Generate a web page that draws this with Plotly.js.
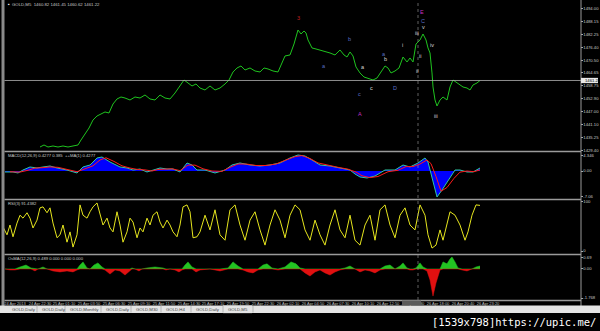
<!DOCTYPE html>
<html><head><meta charset="utf-8">
<script src="https://cdn.plot.ly/plotly-3.0.1.min.js"></script>
<style>html,body{margin:0;padding:0;background:#000;}#chart{width:600px;height:331px;}</style>
</head><body><div id="chart"></div>
<script>
// ---- data (bar index along time axis) ----
const priceBar = [40,44,48,53,58,63,68,73,78,81,85,89,93,97,101,105,109,113,117,121,125,130,135,140,145,150,155,160,165,170,175,180,184,188,192,196,200,205,210,215,220,225,229,233,237,241,245,250,255,260,264,268,273,278,282,285,290,294,298,301,304,306,308,312,316,320,325,330,335,340,344,347,350,353,356,360,364,368,373,377,381,385,388,391,395,399,403,407,410,413,416,420,423,426,428,430,432,433,435,437,440,443,447,450,453,457,460,463,467,470,473,477,480];
const priceClose = [1430.83,1431.75,1430.83,1431.29,1430.83,1431.29,1430.83,1431.29,1431.75,1434.03,1436.77,1439.51,1443.17,1445.00,1445.91,1446.83,1446.37,1450.48,1452.77,1453.68,1453.22,1452.31,1453.68,1453.22,1454.60,1452.77,1452.31,1454.60,1453.22,1452.77,1455.51,1458.71,1461.45,1460.08,1458.71,1459.62,1457.79,1456.88,1458.71,1456.88,1457.79,1459.62,1461.45,1465.11,1466.94,1467.85,1466.02,1466.94,1465.56,1465.11,1466.94,1466.48,1465.56,1465.11,1469.68,1472.42,1472.88,1477.90,1484.30,1482.47,1483.84,1482.93,1479.73,1476.08,1475.62,1475.16,1474.25,1473.79,1472.88,1475.16,1472.88,1471.96,1474.25,1472.42,1467.39,1464.65,1462.82,1462.36,1461.45,1462.36,1465.11,1467.85,1466.94,1464.65,1465.56,1466.94,1471.96,1469.68,1471.51,1469.68,1477.90,1479.73,1482.47,1479.73,1476.08,1473.79,1464.65,1458.25,1452.31,1449.57,1452.31,1453.68,1452.31,1458.25,1461.45,1460.08,1459.17,1458.25,1457.79,1456.88,1459.17,1460.08,1461.22];
const priceTicks = [1494.00,1488.15,1482.25,1476.40,1470.50,1464.65,1458.75,1452.90,1447.00,1441.10,1435.25,1429.40];
const lastPrice = 1461.22;

const macdBar = [5,13,18,23,30,37,43,50,57,67,77,83,90,97,102,110,120,127,133,140,147,153,160,167,173,180,187,192,197,205,215,225,232,240,250,260,270,280,290,298,305,312,320,330,340,350,355,360,367,375,385,395,403,410,418,425,428,433,437,442,450,455,460,467,473,480];
const macdMain = [-0.27,-0.27,-0.54,0.27,1.09,0.82,1.09,1.36,0.82,0.27,-0.54,1.09,1.63,3.54,3.81,2.45,1.09,0.82,0.27,0.54,-0.27,0.27,0.82,0.54,0.54,-0.27,2.18,1.63,0.27,0.27,-0.54,0.27,1.63,2.18,1.63,1.36,1.63,2.18,3.54,4.35,4.08,2.99,1.63,1.36,0.82,0.27,-0.82,-1.63,-1.90,-1.36,0.27,0.27,1.63,1.09,2.18,3.54,2.45,-2.45,-7.07,-5.17,-1.63,0.27,0.27,-0.27,-0.27,0.82];
const signalBar = [10,20,28,35,42,50,58,67,77,85,93,100,106,114,122,130,138,145,152,158,165,172,180,188,195,203,212,222,230,238,246,256,266,276,286,295,302,310,318,328,338,348,356,362,370,378,388,398,406,413,420,427,431,436,441,447,454,460,467,474,480];
const macdSignal = [-0.2,-0.3,0.2,0.8,0.9,1.1,1.0,0.5,-0.2,0.6,1.4,3.0,3.6,2.6,1.4,0.8,0.4,0.3,0.0,0.4,0.6,0.6,0.1,1.6,1.6,0.6,0.0,-0.1,1.0,1.9,1.9,1.5,1.5,1.9,3.0,3.9,4.2,3.4,2.2,1.5,1.0,0.5,-0.3,-1.3,-1.8,-1.5,-0.2,0.2,1.2,1.2,1.9,3.0,2.0,-1.5,-5.5,-4.5,-2.0,-0.3,0.0,-0.2,0.3];
const macdTicks = [4.346, 0, -7.06];
const macdTickText = ['4.346','0.00','-7.06'];

const rsiBar = [3,7,10,13,17,20,23,27,30,33,37,40,43,47,50,53,57,60,63,67,70,73,77,80,83,87,90,93,97,100,103,107,110,113,117,120,123,127,130,133,137,140,143,147,150,153,157,160,163,167,170,173,177,180,183,187,190,193,197,200,205,210,215,220,225,230,235,240,245,250,255,260,265,270,275,280,285,290,295,300,305,310,315,320,325,330,335,340,345,350,355,360,365,370,375,380,385,390,395,400,405,410,415,420,425,428,432,436,440,443,447,450,455,460,465,468,472,476,480];
const rsiValue = [49,33,53,29,57,73,67,78,67,47,63,88,90,78,88,57,27,33,53,18,39,8,33,94,73,67,80,90,98,73,53,67,47,39,80,53,18,39,67,59,27,47,39,67,53,73,80,59,47,63,53,39,29,53,90,94,80,27,29,39,73,43,84,33,22,84,94,53,22,63,80,43,12,53,84,63,27,73,94,84,43,22,63,33,12,53,84,43,27,73,22,12,53,73,22,84,94,53,27,73,88,53,43,94,73,33,6,12,43,22,59,80,73,53,22,39,73,94,93];

const osmaBar = [5,10,15,20,26,31,35,38,43,47,53,60,67,73,77,80,83,87,90,94,98,102,105,110,115,120,125,130,132,135,139,142,147,155,163,166,170,175,179,182,185,188,192,196,200,210,220,228,233,238,243,248,253,258,263,267,272,278,285,291,296,300,305,310,315,320,325,330,335,340,345,350,355,360,365,370,375,380,385,390,395,400,403,407,410,413,416,420,423,427,430,433,436,440,443,447,450,452,455,458,462,467,472,476,480];
const osmaValue = [0,-0.06,-0.06,0.12,0.24,0.06,-0.12,0,0.12,0,-0.12,-0.18,-0.12,-0.18,-0.06,0.24,0.43,0.06,0,0.24,0.37,0.12,-0.06,-0.31,-0.06,-0.12,-0.37,-0.12,0.06,0,-0.12,0,0.06,0.12,0.06,-0.06,0,-0.06,-0.18,-0.06,0.24,0.43,0.12,-0.18,-0.06,0,-0.12,0.06,0.43,0.18,-0.06,-0.18,-0.24,-0.06,0.24,0.31,0.06,-0.06,0.12,0.43,0.31,0.06,-0.24,-0.43,-0.18,-0.06,-0.24,-0.37,-0.18,-0.06,0.06,0.18,0,-0.18,-0.06,-0.12,-0.24,-0.06,0.18,0.24,0,0.18,0.37,0.06,-0.06,-0.06,0.06,0.37,0.12,-0.12,-0.67,-1.65,-0.85,-0.06,0.43,0.31,0.61,0.73,0.43,0.06,-0.06,-0.12,0,0.12,0.18];
const osmaTicks = [0.69, 0, -1.768];
const osmaTickText = ['0.69','0.00','-1.768'];

const timeTickBar = [15,40,64,89,114,139,164,189,213,238,263,288,313,338,363,388,413,438,463,488];
const timeLabels = ['24 Apr 2013','24 Apr 22:30','25 Apr 01:10','25 Apr 03:50','25 Apr 06:30','25 Apr 09:10','25 Apr 11:50','25 Apr 14:30','25 Apr 17:10','25 Apr 19:50','25 Apr 22:30','26 Apr 02:10','26 Apr 04:50','26 Apr 07:30','26 Apr 10:10','26 Apr 12:50','26 Apr 15:30','26 Apr 18:00','26 Apr 20:40','26 Apr 23:20'];

const waveText  = ['3','b','a','a','c','A','a','b','c','D','i','E','C','v','iii','iv','ii','ii','iii'];
const waveBar   = [298,349,324,363,359,360,384,385,371,395,402,422,423,423,417,432,420,417,436];
const wavePrice = [1489.78,1480.19,1467.85,1467.39,1455.05,1445.91,1473.33,1471.05,1457.79,1457.79,1477.45,1492.53,1488.41,1485.67,1482.93,1477.45,1472.42,1465.56,1445.00];
const waveColor = ['#c02020','#5a6fc8','#5a6fc8','#d8d8d8','#5a6fc8','#c030c0','#5a6fc8','#d8d8d8','#d8d8d8','#5a6fc8','#d8d8d8','#c030c0','#5a6fc8','#d8d8d8','#d8d8d8','#d8d8d8','#d8d8d8','#d8d8d8','#d8d8d8'];

const tabLabels = ['GOLD,Daily','GOLD,Daily','GOLD,Monthly','GOLD,Daily','GOLD,M30','GOLD,H4','GOLD,Daily','GOLD,M5'];

// ---- build ----
const H = 331, W = 600;
const py = p => 1 - p / H;           // pixel row -> paper fraction
const px = p => p / W;
const FONT = 'Liberation Sans';
const axisFont = {family: FONT, size: 4.2, color: '#c8c8c8'};

const osmaPos = osmaValue.map(v => Math.max(0, v));
const osmaNeg = osmaValue.map(v => Math.min(0, v));

const traces = [
  {x: priceBar, y: priceClose, xaxis: 'x', yaxis: 'y', mode: 'lines', line: {color: '#1fc41f', width: 1}},
  {x: macdBar, y: macdMain, xaxis: 'x2', yaxis: 'y2', mode: 'lines', fill: 'tozeroy', fillcolor: '#0000ff', line: {color: '#30c8a0', width: 1}},
  {x: signalBar, y: macdSignal, xaxis: 'x2', yaxis: 'y2', mode: 'lines', line: {color: '#ff1a1a', width: 1}},
  {x: rsiBar, y: rsiValue, xaxis: 'x3', yaxis: 'y3', mode: 'lines', line: {color: '#e6e61e', width: 1}},
  {x: osmaBar, y: osmaPos, xaxis: 'x4', yaxis: 'y4', mode: 'lines', fill: 'tozeroy', fillcolor: '#22c422', line: {color: '#22c422', width: 0.5}},
  {x: osmaBar, y: osmaNeg, xaxis: 'x4', yaxis: 'y4', mode: 'lines', fill: 'tozeroy', fillcolor: '#e01010', line: {color: '#e01010', width: 0.5}}
];

const xdom = [px(4), px(580)];
const xbase = {domain: xdom, range: [4, 580], showgrid: false, zeroline: false, showline: false, fixedrange: true};
const ybase = {side: 'right', showgrid: false, zeroline: false, showline: false, ticks: 'outside', ticklen: 1.5, tickcolor: '#aaa', tickfont: axisFont, ticklabelstandoff: 0, fixedrange: true};

const layout = {
  width: W, height: H, margin: {l: 0, r: 0, t: 0, b: 0},
  paper_bgcolor: '#000', plot_bgcolor: '#000', showlegend: false,
  xaxis:  Object.assign({}, xbase, {anchor: 'y',  showticklabels: false}),
  xaxis2: Object.assign({}, xbase, {anchor: 'y2', showticklabels: false}),
  xaxis3: Object.assign({}, xbase, {anchor: 'y3', showticklabels: false}),
  xaxis4: Object.assign({}, xbase, {anchor: 'y4', showticklabels: true, tickvals: timeTickBar, ticktext: timeLabels, tickangle: 0, tickfont: {family: FONT, size: 4, color: '#bdbdbd'}, ticks: '', ticklabelstandoff: 0}),
  yaxis:  Object.assign({}, ybase, {anchor: 'x',  domain: [py(151), py(0)],   range: [1429.0, 1498.0], tickvals: priceTicks, ticktext: priceTicks.map(v => v.toFixed(2))}),
  yaxis2: Object.assign({}, ybase, {anchor: 'x2', domain: [py(199), py(152)], range: [-7.62, 5.17], tickvals: macdTicks, ticktext: macdTickText}),
  yaxis3: Object.assign({}, ybase, {anchor: 'x3', domain: [py(254), py(200)], range: [-6.1, 104], tickvals: [100, 0], ticktext: ['100', '0']}),
  yaxis4: Object.assign({}, ybase, {anchor: 'x4', domain: [py(300), py(255)], range: [-1.89, 0.85], tickvals: osmaTicks, ticktext: osmaTickText}),
  shapes: [], annotations: []
};

const S = layout.shapes, A = layout.annotations;
// left window border strip
S.push({type: 'rect', xref: 'paper', yref: 'paper', x0: px(1.5), x1: px(4.5), y0: py(306), y1: py(0), fillcolor: '#8a8a8a', line: {width: 0}});
// panel separators
[151.5, 199.5, 254.5, 300.5].forEach(r => S.push({type: 'line', xref: 'paper', yref: 'paper', x0: px(4.5), x1: px(581), y0: py(r), y1: py(r), line: {color: '#9a9a9a', width: 1.5}}));
// right axis line
S.push({type: 'line', xref: 'paper', yref: 'paper', x0: px(581), x1: px(581), y0: py(306), y1: py(0), line: {color: '#9a9a9a', width: 1}});
// crosshair vertical dotted line
S.push({type: 'line', xref: 'paper', yref: 'paper', x0: px(418), x1: px(418), y0: py(300), y1: py(0), line: {color: '#8a8a8a', width: 0.7, dash: 'dot'}});
// current price line
S.push({type: 'line', xref: 'paper', yref: 'y', x0: px(4.5), x1: px(581), y0: lastPrice, y1: lastPrice, line: {color: '#b0b0b0', width: 0.8}});
// current price box
S.push({type: 'rect', xref: 'paper', yref: 'y', x0: px(581), x1: px(598), y0: lastPrice - 1.2, y1: lastPrice + 1.2, fillcolor: '#e8e8e8', line: {width: 0}});
A.push({xref: 'paper', yref: 'y', x: px(583), y: lastPrice, xanchor: 'left', yanchor: 'middle', text: lastPrice.toFixed(2), showarrow: false, font: {family: FONT, size: 4.2, color: '#000'}});
// time label highlight under crosshair
S.push({type: 'rect', xref: 'paper', yref: 'paper', x0: px(402), x1: px(421), y0: py(305), y1: py(300.5), fillcolor: '#5a5a5a', line: {width: 0}});
// tab bar
S.push({type: 'rect', xref: 'paper', yref: 'paper', x0: 0, x1: 1, y0: py(313), y1: py(305.5), fillcolor: '#e4e4e4', line: {width: 0}});
const tabX = [6, 36, 64, 100, 130, 160, 190, 222, 252];
tabLabels.forEach((t, i) => {
  A.push({xref: 'paper', yref: 'paper', x: px(tabX[i] + 4), y: py(309.3), xanchor: 'left', yanchor: 'middle', text: t, showarrow: false, font: {family: FONT, size: 4.3, color: '#444'}});
  S.push({type: 'line', xref: 'paper', yref: 'paper', x0: px(tabX[i + 1] + 1), x1: px(tabX[i + 1] + 1), y0: py(312.5), y1: py(306), line: {color: '#999', width: 0.6}});
});
S.push({type: 'rect', xref: 'paper', yref: 'paper', x0: px(223), x1: px(252), y0: py(313), y1: py(305.5), fillcolor: '#ffffff', line: {color: '#888', width: 0.5}, layer: 'below'});

// panel titles
A.push({xref: 'paper', yref: 'paper', x: px(5.5), y: py(4), xanchor: 'left', yanchor: 'middle', text: '▪', showarrow: false, font: {family: FONT, size: 5, color: '#fff'}});
A.push({xref: 'paper', yref: 'paper', x: px(10), y: py(4), xanchor: 'left', yanchor: 'middle', text: 'GOLD,M5  1460.82 1461.45 1460.62 1461.22', showarrow: false, font: {family: FONT, size: 4.3, color: '#c8c8c8'}});
A.push({xref: 'paper', yref: 'paper', x: px(6), y: py(155.5), xanchor: 'left', yanchor: 'middle', text: 'MACD(12,26,9) 0.4277 0.385  ++MA(1) 0.4277', showarrow: false, font: {family: FONT, size: 4.2, color: '#c8c8c8'}});
A.push({xref: 'paper', yref: 'paper', x: px(6), y: py(203), xanchor: 'left', yanchor: 'middle', text: 'RSI(3) 91.4382', showarrow: false, font: {family: FONT, size: 4.2, color: '#c8c8c8'}});
A.push({xref: 'paper', yref: 'paper', x: px(6), y: py(258), xanchor: 'left', yanchor: 'middle', text: 'OsMA(12,26,9) 0.489 0.000 0.000 0.000', showarrow: false, font: {family: FONT, size: 4.2, color: '#c8c8c8'}});

// wave labels
waveText.forEach((t, i) => A.push({xref: 'x', yref: 'y', x: waveBar[i], y: wavePrice[i], text: t, showarrow: false, xanchor: 'center', yanchor: 'middle', font: {family: FONT, size: 5.5, color: waveColor[i]}}));

// watermark text
A.push({xref: 'paper', yref: 'paper', x: px(598), y: py(322), xanchor: 'right', yanchor: 'middle', text: '[1539x798]https://upic.me/', showarrow: false, font: {family: 'DejaVu Sans Mono', size: 10.5, color: '#ffffff'}});

Plotly.newPlot('chart', traces, layout, {staticPlot: true, displayModeBar: false});
</script>
</body></html>
